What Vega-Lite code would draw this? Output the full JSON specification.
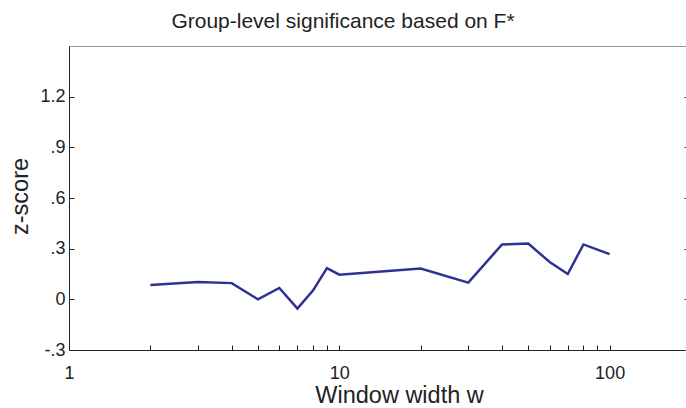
{
  "$schema": "https://vega.github.io/schema/vega-lite/v6.json",
  "autosize": "none",
  "width": 622,
  "height": 304,
  "padding": {"left": 69, "top": 46, "right": 0, "bottom": 58},
  "background": "white",
  "config": {
    "view": {"stroke": null},
    "font": "Liberation Sans",
    "axis": {"grid": false, "labelFont": "Liberation Sans", "titleFont": "Liberation Sans", "labelColor": "#222", "titleColor": "#222", "titleFontWeight": "normal"}
  },
  "title": {"text": "Group-level significance based on F*", "fontSize": 21, "fontWeight": "normal", "font": "Liberation Sans", "color": "#222", "anchor": "middle", "dx": -37, "offset": 14},
  "data": {"values": [
    {"w": 2, "z": 0.085},
    {"w": 3, "z": 0.102},
    {"w": 4, "z": 0.096},
    {"w": 5, "z": 0.0},
    {"w": 6, "z": 0.067},
    {"w": 7, "z": -0.055},
    {"w": 8, "z": 0.053},
    {"w": 9, "z": 0.185},
    {"w": 10, "z": 0.146},
    {"w": 20, "z": 0.182},
    {"w": 30, "z": 0.099},
    {"w": 40, "z": 0.325},
    {"w": 50, "z": 0.33},
    {"w": 60, "z": 0.221},
    {"w": 70, "z": 0.15},
    {"w": 80, "z": 0.325},
    {"w": 100, "z": 0.268}
  ]},
  "layer": [
    {
      "mark": {"type": "line", "color": "#2E3192", "strokeWidth": 2.5, "clip": true},
      "encoding": {
        "x": {"field": "w", "type": "quantitative", "scale": {"type": "log", "domain": [1, 200], "nice": false},
          "axis": {"orient": "bottom", "title": "Window width w", "titleFontSize": 23.5, "titleX": 330, "titleY": 52, "titleBaseline": "alphabetic", "titleAnchor": "middle",
            "values": [1, 2, 3, 4, 5, 6, 7, 8, 9, 10, 20, 30, 40, 50, 60, 70, 80, 90, 100],
            "labelExpr": "(datum.value == 1 || datum.value == 10 || datum.value == 100) ? datum.label : ''",
            "labelFontSize": 18, "labelPadding": 19, "labelBaseline": "top", "tickSize": -5, "tickColor": "#222", "domainColor": "#222", "labelOverlap": false, "labelFlush": false}},
        "y": {"field": "z", "type": "quantitative", "scale": {"domain": [-0.3, 1.5], "nice": false, "zero": false},
          "axis": {"orient": "left", "title": "z-score", "titleFontSize": 23.5, "titleX": -42, "titleY": 150, "titleAngle": -90, "titleBaseline": "alphabetic", "titleAnchor": "middle",
            "values": [-0.3, 0, 0.3, 0.6, 0.9, 1.2],
            "labelExpr": "datum.value == 0 ? '0' : (datum.value < 0 ? '-' : '') + replace(format(abs(datum.value), '.1f'), '0.', '.')",
            "labelFontSize": 18, "labelPadding": 9, "tickSize": -5, "tickColor": "#222", "domainColor": "#222", "labelFlush": false}}
      }
    },
    {
      "mark": {"type": "line", "opacity": 0},
      "encoding": {
        "x": {"field": "w", "type": "quantitative", "scale": {"type": "log", "domain": [1, 200], "nice": false},
          "axis": {"orient": "top", "title": null, "labels": false, "ticks": false, "domainColor": "#999"}},
        "y": {"field": "z", "type": "quantitative", "scale": {"domain": [-0.3, 1.5], "nice": false, "zero": false},
          "axis": {"orient": "right", "title": null, "labels": false, "domain": false, "values": [-0.3, 0, 0.3, 0.6, 0.9, 1.2], "tickSize": -7, "tickColor": "#444"}}
      }
    }
  ],
  "resolve": {"axis": {"x": "independent", "y": "independent"}}
}
